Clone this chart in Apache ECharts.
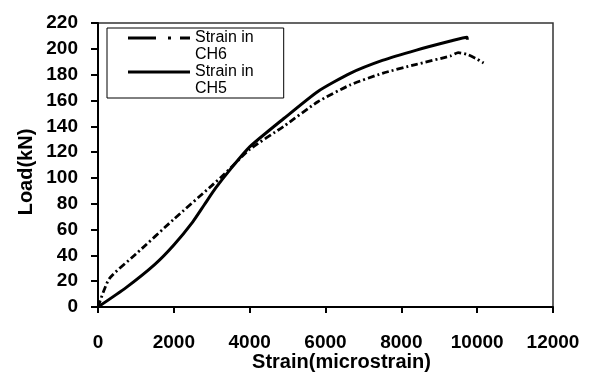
<!DOCTYPE html>
<html>
<head>
<meta charset="utf-8">
<script src="https://cdn.jsdelivr.net/npm/echarts@6/dist/echarts.min.js"></script>
<style>
    html, body { margin: 0; padding: 0; background: #fff; }
    #chart { width: 593px; height: 373px; }
</style>
</head>
<body>
<div id="chart"></div>
<script>
// strain (microstrain), load (kN)
const ch6Strain = [0, 300, 1000, 2000, 3000, 3300, 4000, 4900, 5800, 6650, 7500, 8400, 9300, 9500, 9750, 10000, 10170];
const ch6Load   = [0, 22, 41, 68, 94, 102, 122, 140, 159, 172, 181, 188, 194.5, 197, 195.5, 192, 189];

const ch5Strain = [0, 740, 1500, 2000, 2500, 2800, 3100, 3500, 4000, 4900, 5800, 6650, 7500, 8400, 9300, 9730, 9740];
const ch5Load   = [0, 15, 33, 48, 66, 79, 92, 107, 124, 146, 167, 181, 191, 199, 206, 209, 207];

const names = ['Strain in CH6', 'Strain in CH5'];

// legend glyphs, first-line aligned (62 x 34 box)
const dashDotIcon = 'path://M0 0L0.01 0M0 34L0.01 34M0 7.5L28 7.5L28 10.5L0 10.5ZM40 7.5L43 7.5L43 10.5L40 10.5ZM52 7.5L62 7.5L62 10.5L52 10.5Z';
const solidIcon = 'path://M0 0L0.01 0M0 34L0.01 34M0 7.5L62 7.5L62 10.5L0 10.5Z';

const pairs = (xs, ys) => xs.map((x, i) => [x, ys[i]]);

const chart = echarts.init(document.getElementById('chart'));

const labelFont = {
    fontFamily: 'Arial, "Liberation Sans", sans-serif',
    fontWeight: 'bold',
    fontSize: 19,
    color: '#000'
};

const option = {
    animation: false,
    backgroundColor: '#fff',
    grid: {
        left: 98,
        right: 40,
        top: 23,
        bottom: 66,
        outerBoundsMode: 'none',
        show: true,
        borderColor: '#333',
        borderWidth: 1.5
    },
    legend: {
        orient: 'vertical',
        left: 107,
        top: 28,
        padding: [1, 30, 1, 21],
        borderColor: '#000',
        borderWidth: 1,
        itemWidth: 62,
        itemHeight: 34,
        itemGap: 0,
        data: [
            { name: names[0], icon: dashDotIcon },
            { name: names[1], icon: solidIcon }
        ],
        itemStyle: { color: '#000' },
        formatter: name => name.replace(' CH', '\nCH'),
        textStyle: {
            fontFamily: 'Arial, "Liberation Sans", sans-serif',
            fontSize: 16,
            lineHeight: 17,
            color: '#000'
        }
    },
    xAxis: {
        type: 'value',
        min: 0,
        max: 12000,
        interval: 2000,
        name: 'Strain(microstrain)',
        nameLocation: 'middle',
        nameGap: 45,
        nameMoveOverlap: false,
        nameTextStyle: Object.assign({}, labelFont, { fontSize: 20, padding: [0, 0, 0, 32] }),
        axisLine: { lineStyle: { color: '#000', width: 2 } },
        axisTick: { inside: false, length: 6, lineStyle: { color: '#000', width: 2 } },
        axisLabel: Object.assign({ margin: 26, formatter: v => String(v) }, labelFont),
        splitLine: { show: false }
    },
    yAxis: {
        type: 'value',
        min: 0,
        max: 220,
        interval: 20,
        name: 'Load(kN)',
        nameLocation: 'middle',
        nameGap: 62,
        nameMoveOverlap: false,
        nameRotate: 90,
        nameTextStyle: Object.assign({}, labelFont, { fontSize: 20, padding: [0, 14, 0, 0] }),
        axisLine: { lineStyle: { color: '#000', width: 2 } },
        axisTick: { inside: false, length: 7, lineStyle: { color: '#000', width: 2 } },
        axisLabel: Object.assign({ margin: 20, formatter: v => String(v) }, labelFont),
        splitLine: { show: false }
    },
    series: [
        {
            name: names[0],
            type: 'line',
            symbol: 'none',
            smooth: 0.2,
            data: pairs(ch6Strain, ch6Load),
            lineStyle: { color: '#000', width: 2.8, type: [7, 3, 2, 3] },
            itemStyle: { color: '#000' }
        },
        {
            name: names[1],
            type: 'line',
            symbol: 'none',
            smooth: 0.2,
            data: pairs(ch5Strain, ch5Load),
            lineStyle: { color: '#000', width: 3 },
            itemStyle: { color: '#000' }
        }
    ]
};

chart.setOption(option);
</script>
</body>
</html>
